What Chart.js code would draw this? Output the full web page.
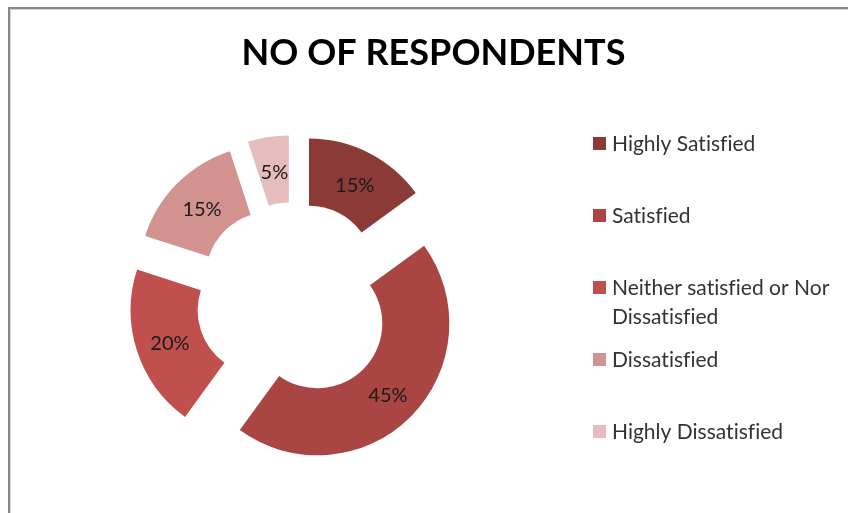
<!DOCTYPE html>
<html>
<head>
<meta charset="utf-8">
<script src="https://cdn.jsdelivr.net/npm/chart.js@4.4.0/dist/chart.umd.min.js"></script>
<style>
  html, body { margin: 0; padding: 0; background: #fff; }
  #wrap { position: relative; width: 848px; height: 513px; }
</style>
</head>
<body>
<div id="wrap"><canvas id="chart"></canvas></div>
<script>
const chartTitle = 'NO OF RESPONDENTS';
const categories = ['Highly Satisfied', 'Satisfied', 'Neither satisfied or Nor Dissatisfied', 'Dissatisfied', 'Highly Dissatisfied'];
const respondents = [15, 45, 20, 15, 5];
const sliceColors = ['#8C3A38', '#A94644', '#C0504D', '#D19290', '#E5BDBC'];

const FONT = 'Lato, "Open Sans", sans-serif';

// pulls every slice away from the centre, like an exploded Excel doughnut
const explodePlugin = {
    id: 'explode',
    afterDatasetUpdate(chart, args, opts) {
        args.meta.data.forEach(arc => {
            const mid = (arc.startAngle + arc.endAngle) / 2;
            arc.x += Math.cos(mid) * opts.distance;
            arc.y += Math.sin(mid) * opts.distance;
        });
    }
};

const sliceLabels = {
    id: 'sliceLabels',
    afterDatasetDraw(chart, args) {
        const ctx = chart.ctx;
        const data = chart.data.datasets[args.index].data;
        const total = data.reduce((a, b) => a + b, 0);
        ctx.save();
        ctx.font = `20px ${FONT}`;
        ctx.fillStyle = '#1a1a1a';
        ctx.textAlign = 'center';
        ctx.textBaseline = 'alphabetic';
        args.meta.data.forEach((arc, i) => {
            const p = arc.getCenterPoint();
            ctx.fillText(`${Math.round(data[i] / total * 100)}%`, p.x + 1, p.y + 9);
        });
        ctx.restore();
    }
};

const frameAndLegend = {
    id: 'frameAndLegend',
    beforeDraw(chart) {
        const ctx = chart.ctx;
        ctx.save();
        ctx.fillStyle = '#878787';
        ctx.fillRect(8, 7, chart.width - 8, 2);
        ctx.fillRect(8, 7, 2, chart.height - 7);
        ctx.fillStyle = '#d6d6d6';
        ctx.fillRect(10, 9, chart.width - 10, 1);
        ctx.fillRect(10, 9, 1, chart.height - 9);
        ctx.restore();
    },
    afterDraw(chart) {
        const ctx = chart.ctx;
        ctx.save();
        ctx.letterSpacing = '0.01px'; // keeps "fi" from turning into a ligature
        ctx.fillStyle = '#000';
        ctx.font = `bold 36px ${FONT}`;
        ctx.textAlign = 'center';
        ctx.textBaseline = 'alphabetic';
        ctx.fillText(chartTitle, 433.5, 65);

        const colors = chart.data.datasets[0].backgroundColor;
        ctx.font = `21px ${FONT}`;
        ctx.textAlign = 'left';
        const maxWidth = chart.width - 612;
        chart.data.labels.forEach((label, i) => {
            const cy = 143.5 + i * 72;
            ctx.fillStyle = colors[i];
            ctx.fillRect(593, cy - 6.5, 13, 13);
            ctx.fillStyle = '#333';
            const lines = [];
            let line = '';
            label.split(' ').forEach(word => {
                const test = line ? line + ' ' + word : word;
                if (ctx.measureText(test).width > maxWidth && line) {
                    lines.push(line);
                    line = word;
                } else {
                    line = test;
                }
            });
            lines.push(line);
            lines.forEach((t, j) => ctx.fillText(t, 612, cy + 7.5 + j * 29));
        });
        ctx.restore();
    }
};

new Chart(document.getElementById('chart'), {
    type: 'doughnut',
    data: {
        labels: categories,
        datasets: [{
            data: respondents,
            backgroundColor: sliceColors,
            borderWidth: 0
        }]
    },
    options: {
        responsive: true,
        maintainAspectRatio: false,
        animation: false,
        events: [],
        cutout: '49.2%',
        layout: { padding: { left: 162, right: 422, top: 168, bottom: 81 } },
        plugins: {
            legend: { display: false },
            title: { display: false },
            tooltip: { enabled: false },
            explode: { distance: 33 }
        }
    },
    plugins: [explodePlugin, sliceLabels, frameAndLegend]
});
</script>
</body>
</html>
